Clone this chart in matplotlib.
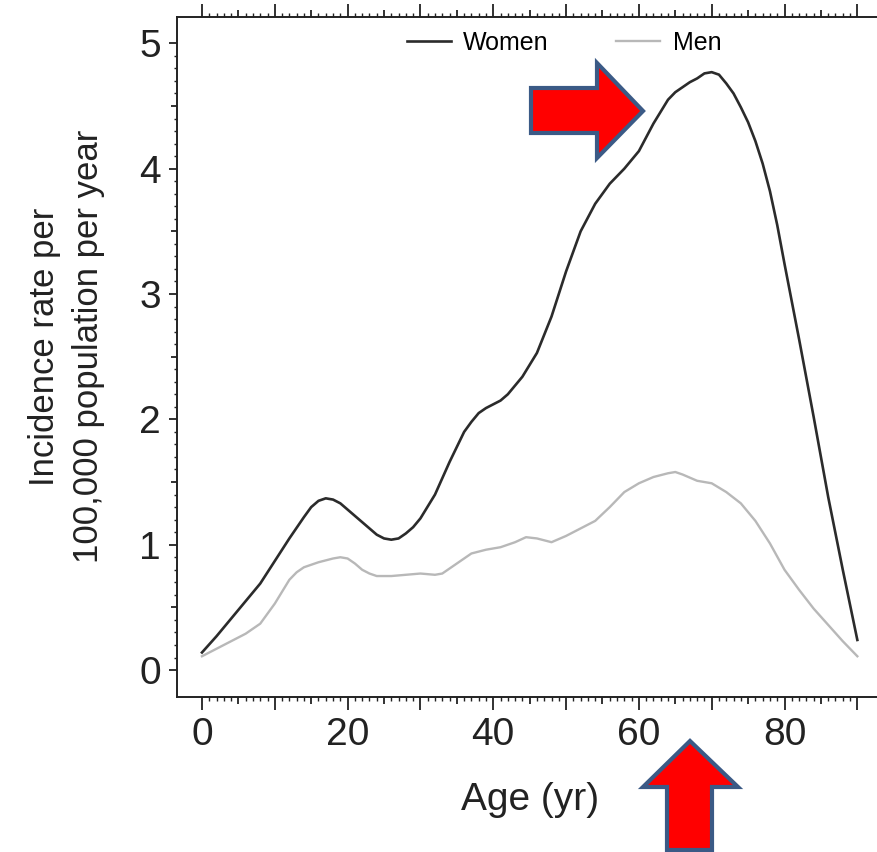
import matplotlib
matplotlib.use("Agg")
import matplotlib.pyplot as plt
from matplotlib.patches import Polygon

plt.rcParams["font.family"] = ["Liberation Sans", "DejaVu Sans"]

# Incidence rate per 100,000 population per year
women_age = [0, 2, 4, 6, 8, 10, 12, 14, 15, 16, 17, 18, 19, 20, 21, 22, 23, 24, 25,
             26, 27, 28, 29, 30, 32, 34, 36, 37, 38, 39, 40, 41, 42, 44, 46, 48, 50,
             52, 54, 56, 58, 60, 62, 64, 65, 66, 67, 68, 69, 70, 71, 72, 73, 74, 75,
             76, 77, 78, 79, 80, 82, 84, 86, 88, 90]
women_rate = [0.14, 0.27, 0.41, 0.55, 0.69, 0.87, 1.05, 1.22, 1.30, 1.35, 1.37, 1.36,
              1.33, 1.28, 1.23, 1.18, 1.13, 1.08, 1.05, 1.04, 1.05, 1.09, 1.14, 1.21,
              1.40, 1.66, 1.90, 1.98, 2.05, 2.09, 2.12, 2.15, 2.20, 2.34, 2.53, 2.82,
              3.18, 3.50, 3.72, 3.88, 4.00, 4.14, 4.36, 4.55, 4.61, 4.65, 4.69, 4.72,
              4.76, 4.77, 4.75, 4.68, 4.60, 4.49, 4.37, 4.22, 4.04, 3.82, 3.55, 3.24,
              2.64, 2.02, 1.38, 0.80, 0.24]

men_age = [0, 2, 4, 6, 8, 10, 12, 13, 14, 16, 18, 19, 20, 21, 22, 23, 24, 26, 28, 30,
           32, 33, 34, 36, 37, 39, 41, 43, 44.5, 46, 48, 50, 52, 54, 56, 58, 60, 62,
           64, 65, 66, 68, 70, 72, 74, 76, 78, 80, 82, 84, 86, 88, 90]
men_rate = [0.11, 0.17, 0.23, 0.29, 0.37, 0.53, 0.72, 0.78, 0.82, 0.86, 0.89, 0.90,
            0.89, 0.85, 0.80, 0.77, 0.75, 0.75, 0.76, 0.77, 0.76, 0.77, 0.81, 0.89,
            0.93, 0.96, 0.98, 1.02, 1.06, 1.05, 1.02, 1.07, 1.13, 1.19, 1.30, 1.42,
            1.49, 1.54, 1.57, 1.58, 1.56, 1.51, 1.49, 1.42, 1.33, 1.19, 1.01, 0.80,
            0.64, 0.49, 0.36, 0.23, 0.11]

x_major = list(range(0, 91, 5))
x_labels = [0, 20, 40, 60, 80]
y_major = [i * 0.5 for i in range(11)]
y_labels = [0, 1, 2, 3, 4, 5]

W, H = 877, 852
INK = "#222222"


def px(x, y):
    # pixel position in the figure (origin top-left) -> figure fraction
    return (x / W, 1 - y / H)


fig = plt.figure(figsize=(W / 100, H / 100), dpi=100)
ax = fig.add_axes([177 / W, 1 - 697 / H, 700 / W, 680 / H])

ax.plot(men_age, men_rate, color="#b8b8b8", lw=1.7, label="Men", solid_joinstyle="round")
ax.plot(women_age, women_rate, color="#2b2b2b", lw=1.9, label="Women", solid_joinstyle="round")

ax.set_xlim(-3.43, 92.7)
ax.set_ylim(-0.215, 5.21)

ax.spines["right"].set_visible(False)
for s in ["left", "top", "bottom"]:
    ax.spines[s].set_linewidth(1.4)
    ax.spines[s].set_color(INK)

ax.set_xticks(x_major)
ax.set_xticklabels([str(v) if v in x_labels else "" for v in x_major])
ax.set_xticks(range(0, 91), minor=True)
ax.set_yticks(y_major)
ax.set_yticklabels([str(int(v)) if v in y_labels else "" for v in y_major])
ax.set_yticks([i / 10 for i in range(51)], minor=True)

ax.tick_params(axis="x", which="major", direction="out", top=True, labeltop=False,
               length=9.4, width=1.3, pad=5, labelsize=28, colors=INK)
ax.tick_params(axis="x", which="minor", direction="out", top=True,
               length=3, width=1.0, colors=INK)
ax.tick_params(axis="y", which="major", direction="out", right=False,
               length=5.5, width=1.3, pad=6, labelsize=28, colors=INK)
ax.tick_params(axis="y", which="minor", direction="out", right=False,
               length=2.5, width=1.0, colors=INK)

# half-way ticks (every 5 yr, every 0.5) are shorter than the labelled ones
for v, t in zip(x_major, ax.xaxis.get_major_ticks()):
    if v % 10:
        t.tick1line.set_markersize(5)
        t.tick2line.set_markersize(5)
for v, t in zip(y_major, ax.yaxis.get_major_ticks()):
    if v != int(v):
        t.tick1line.set_markersize(4)

ax.set_xlabel("Age (yr)", fontsize=28, color=INK)
ax.xaxis.set_label_coords(0.504, -0.125)
ax.set_ylabel("Incidence rate per\n100,000 population per year", fontsize=25,
              color=INK, linespacing=1.4)
ax.yaxis.set_label_coords(-0.103, 0.515)

handles, labels = ax.get_legend_handles_labels()
ax.legend(handles[::-1], labels[::-1], loc="center", bbox_to_anchor=(0.553, 0.962),
          ncol=2, frameon=False, fontsize=18, handlelength=1.75, handletextpad=0.5,
          columnspacing=2.7, borderpad=0)

# red call-out arrows
right_arrow = [(531, 88), (597, 88), (597, 63), (643, 111), (597, 158), (597, 133), (531, 133)]
up_arrow = [(690, 741), (738, 787), (712, 787), (712, 850), (667, 850), (667, 787), (643, 787)]
for pts in (right_arrow, up_arrow):
    fig.patches.append(Polygon([px(x, y) for x, y in pts], closed=True,
                               transform=fig.transFigure, facecolor="#ff0000",
                               edgecolor="#3b5a86", linewidth=3, joinstyle="miter"))

fig.savefig("out.png", dpi=100)
